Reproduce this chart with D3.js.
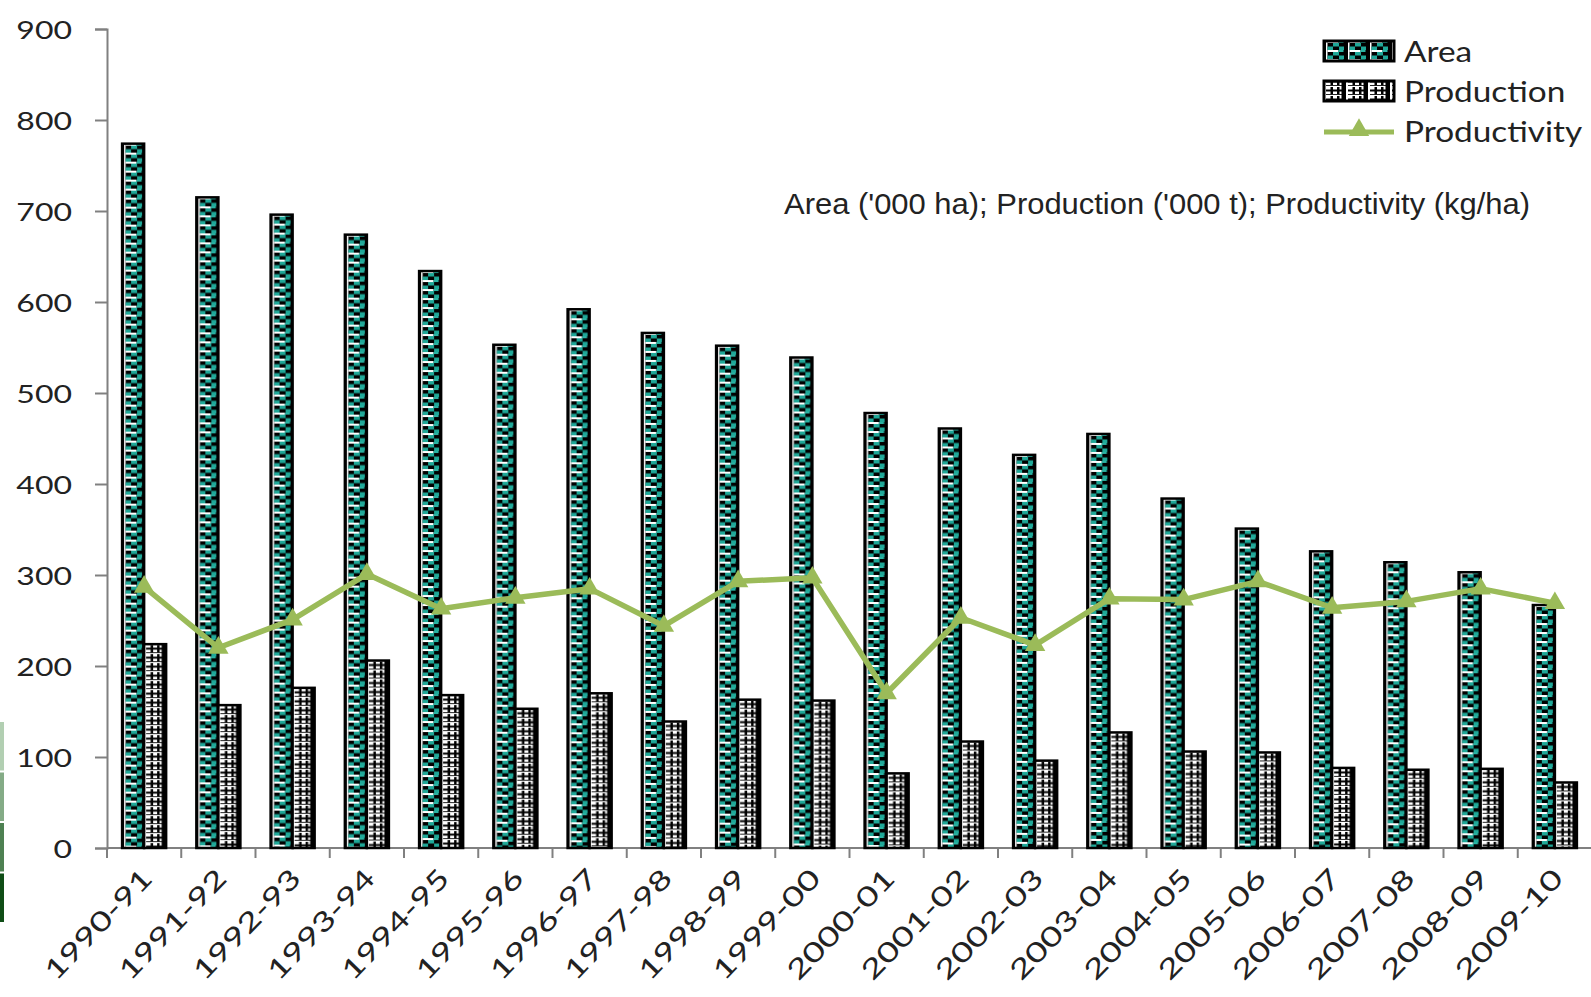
<!DOCTYPE html>
<html>
<head>
<meta charset="utf-8">
<script src="https://cdn.jsdelivr.net/npm/d3@7"></script>
<style>
  html, body { margin: 0; padding: 0; background: #fff; }
  svg { display: block; }
</style>
</head>
<body>
<script>
// Seasons on the category axis
const seasons = ["1990-91","1991-92","1992-93","1993-94","1994-95","1995-96","1996-97","1997-98","1998-99","1999-00",
                 "2000-01","2001-02","2002-03","2003-04","2004-05","2005-06","2006-07","2007-08","2008-09","2009-10"];
// Area ('000 ha)
const area = [774, 715, 696, 674, 634, 553, 592, 566, 552, 539, 478, 461, 432, 455, 384, 351, 326, 314, 303, 267];
// Production ('000 t)
const production = [224, 157, 176, 206, 168, 153, 170, 139, 163, 162, 82, 117, 96, 127, 106, 105, 88, 86, 87, 72];
// Productivity (kg/ha)
const productivity = [287, 220, 251, 301, 263, 275, 285, 244, 293, 297, 170, 253, 223, 274, 273, 293, 264, 271, 285, 269];
const yTicks = [0, 100, 200, 300, 400, 500, 600, 700, 800, 900];
const seriesNames = ["Area", "Production", "Productivity"];
const note = "Area ('000 ha); Production ('000 t); Productivity (kg/ha)";

const W = 1591, H = 997;
const svg = d3.select("body").append("svg").attr("width", W).attr("height", H);
const defs = svg.append("defs");

// Checkered teal pattern for the Area bars
const pa = defs.append("pattern").attr("id", "patArea")
  .attr("patternUnits", "userSpaceOnUse").attr("width", 22).attr("height", 9);
pa.append("rect").attr("width", 22).attr("height", 9).attr("fill", "#000");
pa.append("rect").attr("x", 2).attr("y", 0).attr("width", 1.5).attr("height", 9).attr("fill", "#fff");
pa.append("rect").attr("x", 3.5).attr("y", 0).attr("width", 11).attr("height", 2).attr("fill", "#fff");
pa.append("rect").attr("x", 14.5).attr("y", 0).attr("width", 5).attr("height", 2).attr("fill", "#2ab3a3");
pa.append("rect").attr("x", 9).attr("y", 2).attr("width", 6).attr("height", 3.5).attr("fill", "#1fa898");
pa.append("rect").attr("x", 3.5).attr("y", 5.5).attr("width", 5.5).attr("height", 3.5).attr("fill", "#1fa898");
pa.append("rect").attr("x", 15).attr("y", 5.5).attr("width", 5).attr("height", 3.5).attr("fill", "#1fa898");

// Black-and-white lattice pattern for the Production bars
const pp = defs.append("pattern").attr("id", "patProd")
  .attr("patternUnits", "userSpaceOnUse").attr("width", 22).attr("height", 9);
pp.append("rect").attr("width", 22).attr("height", 9).attr("fill", "#fff");
pp.append("rect").attr("x", 2).attr("y", 3.5).attr("width", 16).attr("height", 2).attr("fill", "#000");
pp.append("rect").attr("x", 6.5).attr("y", 1).attr("width", 2.5).attr("height", 7).attr("fill", "#000");
pp.append("rect").attr("x", 13).attr("y", 1).attr("width", 2.5).attr("height", 7).attr("fill", "#000");
pp.append("rect").attr("x", 2).attr("y", 8).attr("width", 16).attr("height", 1).attr("fill", "#222");
pp.append("rect").attr("x", 17.5).attr("y", 0).attr("width", 4.5).attr("height", 9).attr("fill", "#000");

// Scales
const x0 = 107, yTop = 29, yBase = 848;
const step = 74.25;
const x = d3.scaleBand().domain(seasons).range([x0, x0 + step * seasons.length])
  .paddingInner(0.407).paddingOuter(0.2035);
const xs = d3.scaleBand().domain(["area", "production"]).range([0, x.bandwidth()]);
const y = d3.scaleLinear().domain([0, 900]).range([yBase, yTop]);

const textColor = "#222";
const axisColor = "#808080";

// Y axis
const yAxis = svg.append("g").attr("transform", `translate(${x0},0)`)
  .call(d3.axisLeft(y).tickValues(yTicks).tickSize(12).tickPadding(0).tickFormat(d3.format("d")));
yAxis.select(".domain").attr("stroke", axisColor).attr("stroke-width", 2);
yAxis.selectAll(".tick line").attr("stroke", axisColor).attr("stroke-width", 2);
yAxis.selectAll(".tick text").each(function () {
  const t = d3.select(this);
  t.attr("x", null).attr("dy", null)
   .attr("transform", "translate(-35,9) scale(1.28,1)")
   .attr("text-anchor", "end")
   .attr("fill", textColor)
   .style("font-family", "Lato, 'Open Sans', sans-serif")
   .style("font-size", "25px");
});

// X axis: baseline with ticks at category boundaries
const xAxisG = svg.append("g");
xAxisG.append("line").attr("x1", x0).attr("x2", W).attr("y1", yBase).attr("y2", yBase)
  .attr("stroke", axisColor).attr("stroke-width", 2);
xAxisG.selectAll("line.bt").data(d3.range(seasons.length + 1)).join("line")
  .attr("class", "bt")
  .attr("x1", i => x0 + x.step() * i).attr("x2", i => x0 + x.step() * i)
  .attr("y1", yBase).attr("y2", yBase + 10)
  .attr("stroke", axisColor).attr("stroke-width", 2);
xAxisG.selectAll("text").data(seasons).join("text")
  .attr("transform", d => `translate(${x(d) + x.bandwidth() / 2 + 10},${yBase + 32}) rotate(-46) scale(1.36,1)`)
  .attr("text-anchor", "end")
  .attr("fill", textColor)
  .style("font-family", "Lato, 'Open Sans', sans-serif")
  .style("font-size", "27px")
  .text(d => d);

// Bars
const groups = svg.append("g").selectAll("g").data(seasons).join("g");
function drawBars(key, values, pat) {
  groups.append("g")
    .attr("transform", (d, i) => `translate(${x(d) + xs(key)},${y(values[i])})`)
    .append("rect")
    .attr("x", 0).attr("y", 0)
    .attr("width", xs.bandwidth())
    .attr("height", (d, i) => yBase - y(values[i]))
    .attr("fill", `url(#${pat})`)
    .attr("stroke", "#000").attr("stroke-width", 2.5);
}
drawBars("area", area, "patArea");
drawBars("production", production, "patProd");

// Productivity line with triangle markers
const lineColor = "#9bbb59";
const cx = d => x(d) + x.bandwidth() / 2;
const line = d3.line().x((d, i) => cx(seasons[i])).y(d => y(d));
svg.append("path").datum(productivity).attr("d", line)
  .attr("fill", "none").attr("stroke", lineColor).attr("stroke-width", 5.5).attr("stroke-linejoin", "round");
const tri = d3.symbol().type(d3.symbolTriangle).size(180);
svg.append("g").selectAll("path").data(productivity).join("path")
  .attr("transform", (d, i) => `translate(${cx(seasons[i])},${y(d)})`)
  .attr("d", tri).attr("fill", lineColor);

// Legend
const leg = svg.append("g").attr("transform", "translate(1324,41)");
const legendStyle = sel => sel.attr("fill", textColor)
  .style("font-family", "Lato, 'Open Sans', sans-serif").style("font-size", "29px");
leg.append("rect").attr("x", 0).attr("y", 0).attr("width", 70).attr("height", 20)
  .attr("fill", "url(#patArea)").attr("stroke", "#000").attr("stroke-width", 3);
leg.append("rect").attr("x", 0).attr("y", 40).attr("width", 70).attr("height", 20)
  .attr("fill", "url(#patProd)").attr("stroke", "#000").attr("stroke-width", 3);
leg.append("line").attr("x1", 0).attr("x2", 70).attr("y1", 91).attr("y2", 91)
  .attr("stroke", lineColor).attr("stroke-width", 5);
leg.append("path").attr("transform", "translate(35,89)").attr("d", tri).attr("fill", lineColor);
leg.selectAll("text").data(seriesNames).join("text")
  .attr("transform", (d, i) => `translate(80,${21 + i * 40}) scale(1.15,1)`)
  .call(legendStyle)
  .text(d => d);

// Units note
svg.append("text").attr("x", 784).attr("y", 214)
  .attr("textLength", 746).attr("lengthAdjust", "spacingAndGlyphs")
  .attr("fill", textColor)
  .style("font-family", "'Liberation Sans', Arial, sans-serif").style("font-size", "30px")
  .text(note);

// Green strip on the left margin
const stripColors = ["#b2cfb2", "#84ab86", "#4e8152", "#0f4d16"];
svg.append("g").selectAll("rect").data(stripColors).join("rect")
  .attr("x", 0).attr("width", 4)
  .attr("y", (d, i) => 722 + i * 50.5).attr("height", 48.5)
  .attr("fill", d => d);
</script>
</body>
</html>
